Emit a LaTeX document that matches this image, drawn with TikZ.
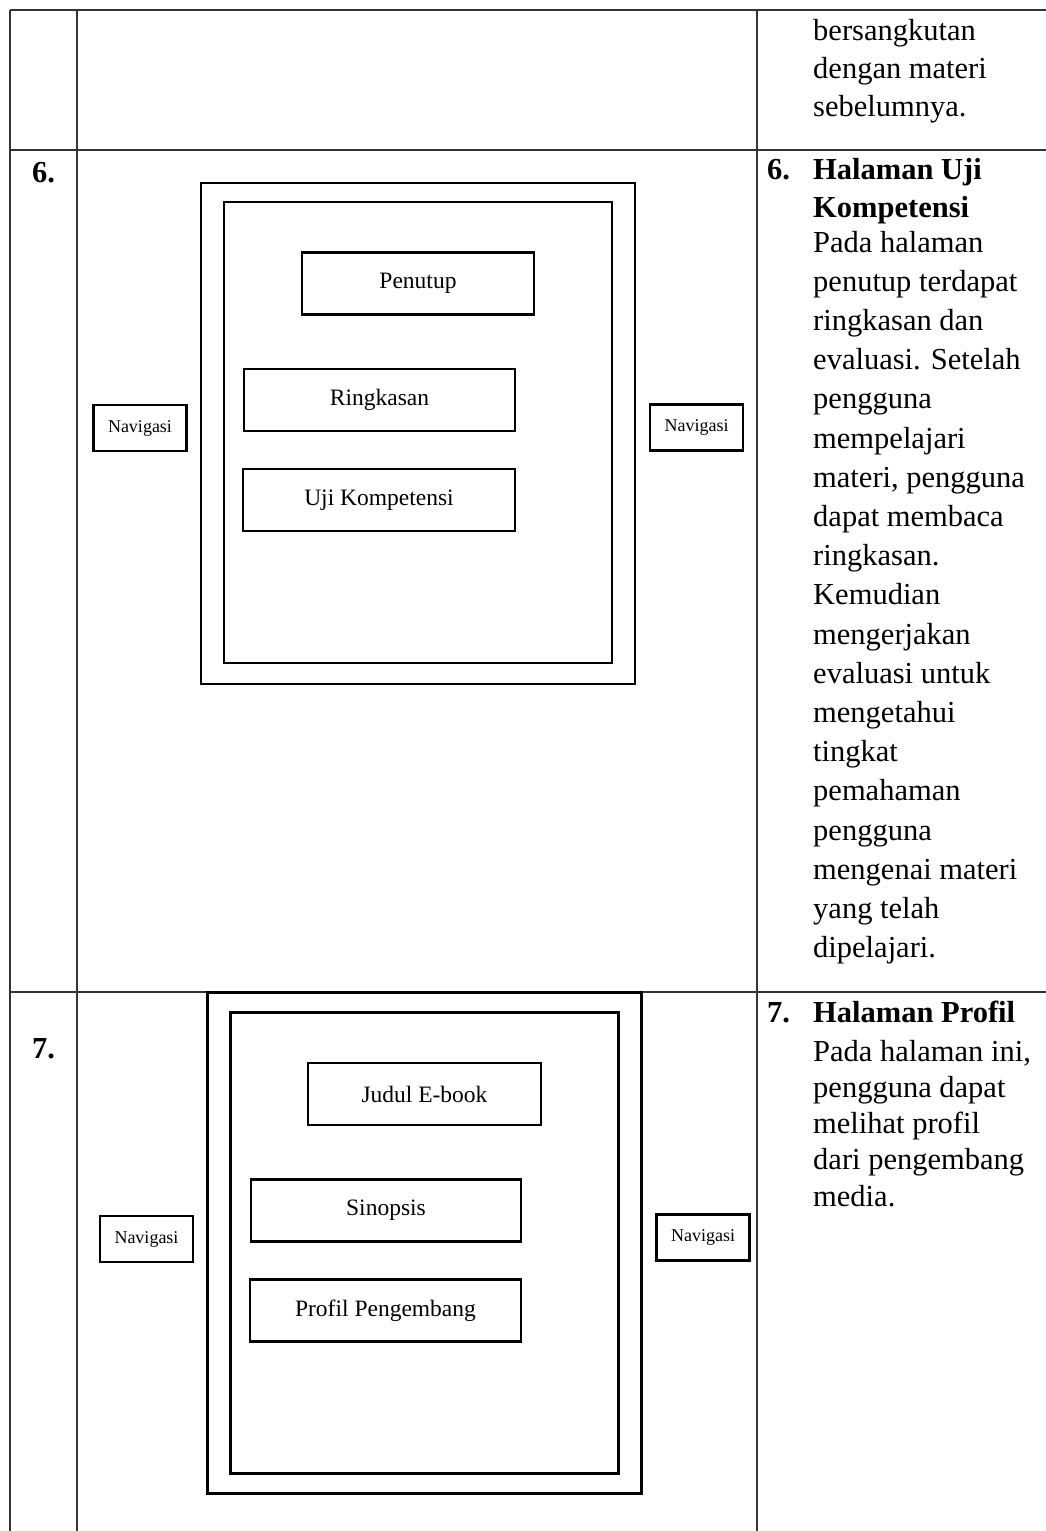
\documentclass[tikz,border=0pt]{standalone}
\usepackage{fontspec}
\setmainfont{Liberation Serif}

\begin{document}
\begin{tikzpicture}[x=1pt, y=-1pt,
	tableline/.style={line width=1.3pt, black!80},
	outerframe/.style={draw, line width=2.6pt, minimum width=434pt, minimum height=501pt, inner sep=0pt},
	screen/.style={draw, line width=2.6pt, minimum width=388pt, minimum height=461pt, inner sep=0pt},
	itembox/.style={draw, line width=2.4pt, minimum height=62pt, inner sep=0pt, font=\fontsize{23.5}{28}\selectfont},
	navbox/.style={draw, line width=2.3pt, minimum width=93pt, minimum height=46pt, inner sep=0pt, font=\fontsize{18}{22}\selectfont},
	desc/.style={anchor=base west, inner sep=0pt, font=\fontsize{30.5}{37}\selectfont},
	headtext/.style={desc, font=\fontsize{30.5}{37}\selectfont\bfseries}]
	\useasboundingbox (0,0) rectangle (1046,1531);

	% table
	\draw[tableline] (10,10) -- (1046,10);
	\draw[tableline] (10,150) -- (1046,150);
	\draw[tableline] (10,992) -- (1046,992);
	\foreach \x in {10, 77, 757}
		\draw[tableline] (\x,10) -- (\x,1531);

	% row 6
	\node[outerframe] (frame6) at (418,433.5) {};
	\node[screen] (screen6) at (418,432.5) {};
	\node[itembox, minimum width=232pt] (penutup) at (418,283.5) {Penutup};
	\node[itembox, minimum width=271pt] (ringkasan) at (379.5,400) {Ringkasan};
	\node[itembox, minimum width=272pt] (ujikomp) at (379,500) {Uji Kompetensi};
	\node[navbox] (nav6l) at (140,428) {Navigasi};
	\node[navbox] (nav6r) at (696.5,427.5) {Navigasi};

	% row 7
	\node[outerframe] (frame7) at (424.5,1243) {};
	\node[screen] (screen7) at (424.5,1243) {};
	\node[itembox, minimum width=233pt] (judul) at (424.5,1094) {Judul E-book};
	\node[itembox, minimum width=270pt] (sinopsis) at (386,1210.5) {Sinopsis};
	\node[itembox, minimum width=271pt] (profil) at (385.5,1310.5) {Profil Pengembang};
	\node[navbox] (nav7l) at (146.5,1239) {Navigasi};
	\node[navbox] (nav7r) at (703,1237.5) {Navigasi};

	\node[headtext] (no6) at (32,182) {6.};
	\node[headtext] (no7) at (32,1058) {7.};

	% description column
	\foreach \txt/\yy [count=\i] in {bersangkutan/40, {dengan materi}/78, sebelumnya./116}
		\node[desc] (prev-\i) at (813,\yy) {\txt};

	\node[headtext] (num6) at (767,179) {6.};
	\node[headtext] (title6a) at (813,179) {Halaman Uji};
	\node[headtext] (title6b) at (813,217) {Kompetensi};
	\foreach \txt [count=\i] in {Pada halaman, penutup terdapat, ringkasan dan, evaluasi. Setelah, pengguna, mempelajari, {materi, pengguna}, dapat membaca, ringkasan., Kemudian, mengerjakan, evaluasi untuk, mengetahui, tingkat, pemahaman, pengguna, mengenai materi, yang telah, dipelajari.}
		\node[desc] (body6-\i) at (813,252+39.2*\i-39.2) {\txt};

	\node[headtext] (num7) at (767,1022) {7.};
	\node[headtext] (title7) at (813,1022) {Halaman Profil};
	\foreach \txt [count=\i] in {{Pada halaman ini,}, pengguna dapat, melihat profil, dari pengembang, media.}
		\node[desc] (body7-\i) at (813,1061+36.3*\i-36.3) {\txt};
\end{tikzpicture}
\end{document}
